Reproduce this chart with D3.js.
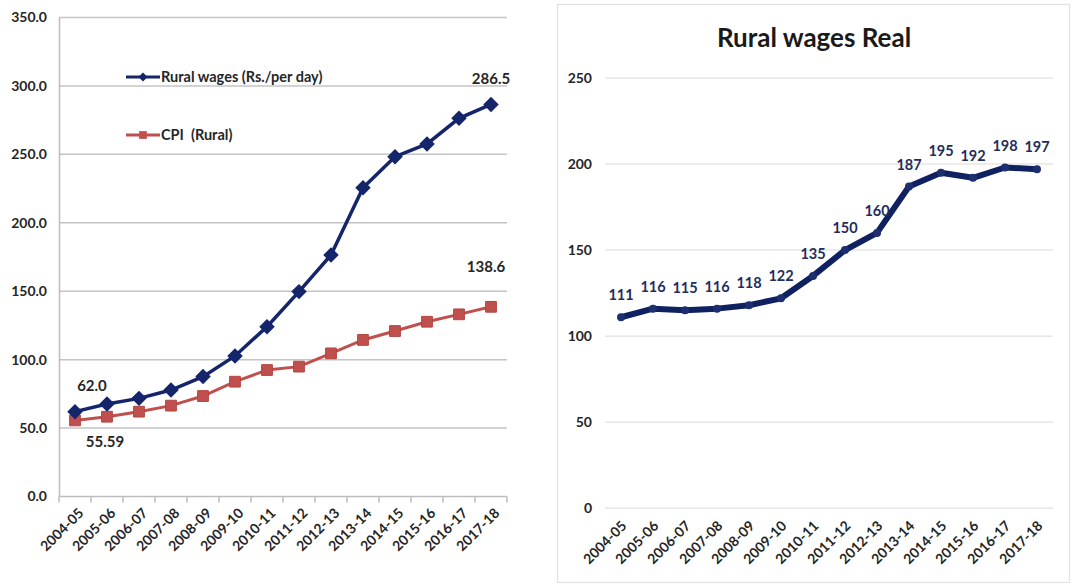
<!DOCTYPE html>
<html>
<head>
<meta charset="utf-8">
<script src="https://cdn.jsdelivr.net/npm/d3@7"></script>
<style>
  html, body { margin: 0; padding: 0; background: #fff; }
  svg { display: block; font-family: Lato, "Open Sans", sans-serif; }
  .legend-label { white-space: pre; }
</style>
</head>
<body>
<svg id="chart" width="1072" height="585"></svg>
<script>
// Financial years shared by both panels
const years = ["2004-05","2005-06","2006-07","2007-08","2008-09","2009-10","2010-11",
               "2011-12","2012-13","2013-14","2014-15","2015-16","2016-17","2017-18"];

// Nominal rural wages (Rs. per day) and rural CPI
const wages = [62.0, 67.6, 71.7, 77.8, 87.6, 102.7, 124.1, 149.7, 176.5, 225.6, 248.3, 257.6, 276.3, 286.5];
const cpi   = [55.59, 58.3, 62.0, 66.4, 73.4, 83.9, 92.4, 94.9, 104.6, 114.4, 120.9, 127.7, 133.1, 138.6];

// Real rural wages index
const realWages = [111, 116, 115, 116, 118, 122, 135, 150, 160, 187, 195, 192, 198, 197];

// Axis tick values
const leftTicks  = [0, 50, 100, 150, 200, 250, 300, 350];
const rightTicks = [0, 50, 100, 150, 200, 250];

// Series names
const wageName = "Rural wages (Rs./per day)";
const cpiName  = "CPI  (Rural)";
const rightTitle = "Rural wages Real";

const NAVY = "#14256b";
const RED  = "#c0504d";
const TEXT = "#262626";

const svg = d3.select("#chart");

/* ---------------- Left panel: nominal wages vs CPI ---------------- */
const xL = d3.scaleBand().domain(years).range([59, 507]);
const yL = d3.scaleLinear().domain([0, 350]).range([496.5, 17.5]);
const left = svg.append("g");

// horizontal gridlines
left.append("g").selectAll("line").data(leftTicks.filter(t => t > 0)).join("line")
  .attr("x1", 59).attr("x2", 507)
  .attr("y1", d => yL(d)).attr("y2", d => yL(d))
  .attr("stroke", "#c4c4c4").attr("stroke-width", 1.5);

// y axis
const yAxisL = left.append("g").attr("transform", "translate(59,0)")
  .call(d3.axisLeft(yL).tickValues(leftTicks).tickFormat(d3.format(".1f")).tickSize(0).tickPadding(12));
yAxisL.select(".domain").attr("stroke", "#bdbdbd").attr("stroke-width", 1.5);
yAxisL.selectAll("text").attr("font-size", 14).attr("font-weight", "bold").attr("fill", TEXT)
  .attr("font-family", "Lato, sans-serif");

// x axis with ticks at category boundaries
const xAxisL = left.append("g").attr("transform", `translate(0,${yL(0)})`);
xAxisL.append("line").attr("x1", 59).attr("x2", 507).attr("stroke", "#bdbdbd").attr("stroke-width", 1.5);
xAxisL.selectAll("line.tk").data(years.concat(["end"])).join("line").attr("class", "tk")
  .attr("x1", (d, i) => i < years.length ? xL(d) : xL.range()[1])
  .attr("x2", (d, i) => i < years.length ? xL(d) : xL.range()[1])
  .attr("y1", 0).attr("y2", 6).attr("stroke", "#bdbdbd").attr("stroke-width", 1.5);
xAxisL.selectAll("text").data(years).join("text")
  .attr("transform", d => `translate(${xL(d) + xL.bandwidth() / 2 + 6},${14}) rotate(-45)`)
  .attr("text-anchor", "end").attr("dy", "0.35em")
  .attr("font-size", 14).attr("font-weight", "bold").attr("fill", TEXT)
  .text(d => d);

const cx = d => xL(d) + xL.bandwidth() / 2;

// CPI line
left.append("path").datum(cpi)
  .attr("fill", "none").attr("stroke", RED).attr("stroke-width", 3)
  .attr("d", d3.line().x((d, i) => cx(years[i])).y(d => yL(d)));
left.append("g").selectAll("path").data(cpi).join("path")
  .attr("transform", (d, i) => `translate(${cx(years[i])},${yL(d)})`)
  .attr("d", d3.symbol(d3.symbolSquare, 115))
  .attr("fill", RED).attr("stroke", "#b2433f").attr("stroke-width", 1);

// Wages line
left.append("path").datum(wages)
  .attr("fill", "none").attr("stroke", NAVY).attr("stroke-width", 3.5)
  .attr("d", d3.line().x((d, i) => cx(years[i])).y(d => yL(d)));
left.append("g").selectAll("path").data(wages).join("path")
  .attr("transform", (d, i) => `translate(${cx(years[i])},${yL(d)}) rotate(45)`)
  .attr("d", d3.symbol(d3.symbolSquare, 120))
  .attr("fill", NAVY);

// end-point value labels
const n = years.length - 1;
const endLabels = [
  { v: wages[0], i: 0, dx: 17, dy: -26, t: d3.format(".1f")(wages[0]) },
  { v: cpi[0],   i: 0, dx: 30, dy: 21,  t: d3.format(".2f")(cpi[0]) },
  { v: wages[n], i: n, dx: 0,  dy: -26, t: d3.format(".1f")(wages[n]) },
  { v: cpi[n],   i: n, dx: -5, dy: -40, t: d3.format(".1f")(cpi[n]) }
];
left.append("g").selectAll("text").data(endLabels).join("text")
  .attr("x", d => cx(years[d.i]) + d.dx).attr("y", d => yL(d.v) + d.dy)
  .attr("dy", "0.35em").attr("text-anchor", "middle")
  .attr("font-size", 15).attr("font-weight", "bold").attr("fill", TEXT)
  .text(d => d.t);

// legend
const legend = left.append("g");
const legendItems = [
  { name: wageName, color: NAVY, y: 77, diamond: true },
  { name: cpiName, color: RED, y: 135, diamond: false }
];
legendItems.forEach(it => {
  legend.append("line").attr("x1", 126).attr("x2", 160).attr("y1", it.y).attr("y2", it.y)
    .attr("stroke", it.color).attr("stroke-width", 3);
  legend.append("path")
    .attr("transform", `translate(143,${it.y})` + (it.diamond ? " rotate(45)" : ""))
    .attr("d", d3.symbol(d3.symbolSquare, it.diamond ? 40 : 60))
    .attr("fill", it.color);
  legend.append("text").attr("class", "legend-label")
    .attr("x", 161).attr("y", it.y).attr("dy", "0.35em")
    .attr("font-size", 14.5).attr("font-weight", "bold").attr("fill", TEXT)
    .text(it.name);
});

/* ---------------- Right panel: real wages ---------------- */
const right = svg.append("g");
right.append("rect").attr("x", 557.5).attr("y", 4.5).attr("width", 512).attr("height", 578)
  .attr("fill", "none").attr("stroke", "#e2e2e2").attr("stroke-width", 1.2);

const xR = d3.scaleBand().domain(years).range([605, 1053]);
const yR = d3.scaleLinear().domain([0, 250]).range([508.3, 78]);
const rx = d => xR(d) + xR.bandwidth() / 2;

right.append("text").attr("x", 814).attr("y", 38).attr("dy", "0.35em")
  .attr("text-anchor", "middle").attr("font-size", 26).attr("font-weight", "bold")
  .attr("fill", "#1a1a1a").text(rightTitle);

right.append("g").selectAll("line").data(rightTicks).join("line")
  .attr("x1", 605).attr("x2", 1053)
  .attr("y1", d => yR(d)).attr("y2", d => yR(d))
  .attr("stroke", "#e6e6e6").attr("stroke-width", 1.5);

const yAxisR = right.append("g").attr("transform", "translate(605,0)")
  .call(d3.axisLeft(yR).tickValues(rightTicks).tickSize(0).tickPadding(13));
yAxisR.select(".domain").remove();
yAxisR.selectAll("text").attr("font-size", 14).attr("font-weight", "bold").attr("fill", TEXT)
  .attr("font-family", "Lato, sans-serif");

right.append("g").selectAll("text").data(years).join("text")
  .attr("transform", d => `translate(${rx(d) + 3},${yR(0) + 15}) rotate(-45)`)
  .attr("text-anchor", "end").attr("dy", "0.35em")
  .attr("font-size", 14).attr("font-weight", "bold").attr("fill", TEXT)
  .text(d => d);

right.append("path").datum(realWages)
  .attr("fill", "none").attr("stroke", "#0f2160").attr("stroke-width", 6)
  .attr("stroke-linejoin", "round").attr("stroke-linecap", "round")
  .attr("d", d3.line().x((d, i) => rx(years[i])).y(d => yR(d)));
right.append("g").selectAll("circle").data(realWages).join("circle")
  .attr("cx", (d, i) => rx(years[i])).attr("cy", d => yR(d)).attr("r", 4)
  .attr("fill", "#1d2f6f");

right.append("g").selectAll("text").data(realWages).join("text")
  .attr("x", (d, i) => rx(years[i])).attr("y", d => yR(d) - 22)
  .attr("dy", "0.35em").attr("text-anchor", "middle")
  .attr("font-size", 14.5).attr("font-weight", "bold").attr("fill", "#1f2d5c")
  .text(d => d);
</script>
</body>
</html>
